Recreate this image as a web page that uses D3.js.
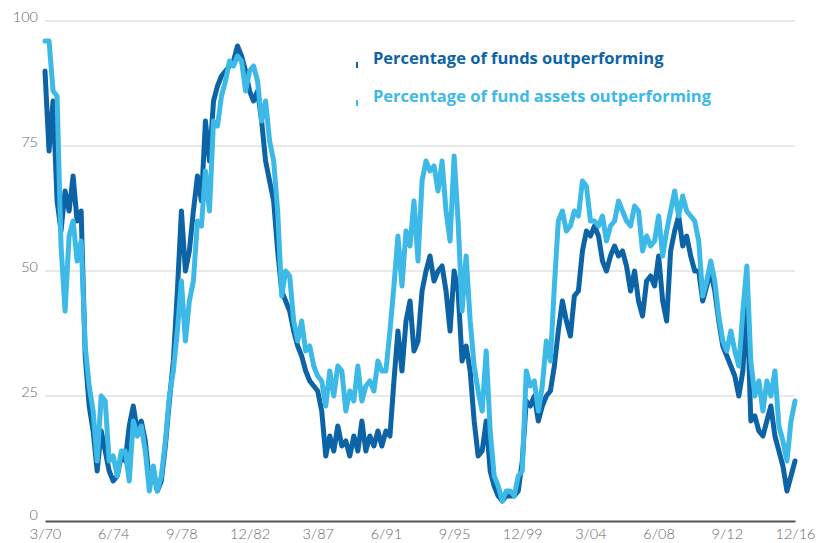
<!DOCTYPE html>
<html>
<head>
<meta charset="utf-8">
<script src="https://cdn.jsdelivr.net/npm/d3@7"></script>
<style>
  html, body { margin: 0; padding: 0; background: #fff; }
  svg { display: block; }
</style>
</head>
<body>
<svg id="chart" width="819" height="543"></svg>
<script>
// Quarterly observations, 3/70 through 12/16
const startMonth = "1970-03";
const fundsOutperforming = [
  90,74,84,64,58,66,62,69,60,62,33,23,18,10,18,14,10,8,9,13,
  12,19,23,18,20,16,8,10,6,8,15,24,32,46,62,50,54,62,69,64,
  80,72,84,87,89,90,91,92,95,93,90,86,84,86,80,72,68,64,54,46,
  44,42,38,35,33,30,28,27,26,22,13,17,14,19,15,16,13,17,14,20,
  14,17,15,18,15,18,17,28,38,30,40,44,34,36,46,50,53,48,50,51,
  46,38,50,46,32,35,30,20,13,14,20,10,7,5,4,5,5,5,6,12,
  24,23,25,20,23,25,26,31,38,44,40,37,45,46,54,58,57,59,57,52,
  50,53,55,53,54,51,46,50,44,41,48,49,47,53,44,40,54,58,61,55,
  57,53,50,50,44,47,50,46,40,35,33,31,29,25,30,45,20,21,18,17,
  20,23,17,14,11,6,9,12
];
const assetsOutperforming = [
  96,96,86,85,55,42,57,60,52,56,35,27,22,12,25,24,12,13,9,14,
  14,8,20,17,19,14,6,11,6,9,16,25,30,38,48,36,44,48,60,59,
  70,62,80,79,85,88,92,91,93,92,86,90,91,88,80,84,76,72,62,45,
  50,49,40,36,40,34,35,31,29,28,23,30,25,31,30,22,26,24,31,24,
  27,28,26,32,30,30,38,47,57,47,58,55,64,52,68,72,70,71,66,72,
  62,56,73,60,42,53,40,31,26,22,34,18,9,7,4,6,6,5,9,10,
  30,27,28,22,27,36,32,47,60,62,58,59,62,61,68,67,60,60,59,61,
  56,59,60,64,62,60,59,63,62,54,57,55,56,61,53,58,62,66,61,65,
  62,61,60,56,45,48,52,48,41,36,34,38,34,31,42,51,32,25,28,22,
  28,25,30,19,16,12,20,24
];
const yTicks = [0, 25, 50, 75, 100];
const xTickLabels = ["3/70","6/74","9/78","12/82","3/87","6/91","9/95","12/99","3/04","6/08","9/12","12/16"];
const seriesNames = ["Percentage of funds outperforming", "Percentage of fund assets outperforming"];
const seriesColors = ["#0c64a6", "#3cb9e7"];

const svg = d3.select("#chart");
const margin = { left: 45, right: 24, top: 21, bottom: 22 };
const W = 819, H = 543;

const parseStart = d3.timeParse("%Y-%m")(startMonth);
const dates = fundsOutperforming.map((_, i) => d3.timeMonth.offset(parseStart, i * 3));
const parseTick = d3.timeParse("%m/%y");
const tickDates = xTickLabels.map(s => {
  const d = parseTick(s);
  if (d.getFullYear() > 2050) d.setFullYear(d.getFullYear() - 100);
  return d;
});

const x = d3.scaleTime()
  .domain([dates[0], dates[dates.length - 1]])
  .range([margin.left, W - margin.right]);
const y = d3.scaleLinear().domain([0, 100]).range([H - margin.bottom, margin.top]);

// gridlines
svg.append("g").selectAll("line")
  .data(yTicks.filter(t => t > 0))
  .join("line")
  .attr("x1", margin.left).attr("x2", W - margin.right)
  .attr("y1", d => y(d)).attr("y2", d => y(d))
  .attr("stroke", "#d4d4d4").attr("stroke-width", 1);

// y labels
svg.append("g").selectAll("text")
  .data(yTicks)
  .join("text")
  .attr("x", 38).attr("y", d => y(d) - (d === 0 ? 5 : 3))
  .attr("text-anchor", "end")
  .attr("dominant-baseline", "middle")
  .attr("fill", "#666")
  .style("font-family", "Lato, sans-serif")
  .style("font-size", "14.5px")
  .style("font-weight", 300)
  .text(d => d);

// x axis
const xAxis = d3.axisBottom(x)
  .tickValues(tickDates)
  .tickFormat((d, i) => xTickLabels[i])
  .tickSize(0)
  .tickPadding(8);
const gx = svg.append("g")
  .attr("transform", `translate(0,${y(0)})`)
  .call(xAxis);
gx.select(".domain").attr("stroke", "#555").attr("stroke-width", 2);
gx.selectAll("text")
  .attr("fill", "#666")
  .style("font-family", "Lato, sans-serif")
  .style("font-size", "14.5px")
  .style("font-weight", 300);

// lines
const line = d3.line()
  .x((d, i) => x(dates[i]))
  .y(d => y(d));

[fundsOutperforming, assetsOutperforming].forEach((s, k) => {
  svg.append("path")
    .datum(s)
    .attr("d", line)
    .attr("fill", "none")
    .attr("stroke", seriesColors[k])
    .attr("stroke-width", 5)
    .attr("stroke-linejoin", "round")
    .attr("stroke-linecap", "round");
});

// legend
const legend = svg.append("g").attr("transform", "translate(356,60)");
seriesNames.forEach((name, k) => {
  const g = legend.append("g").attr("transform", `translate(0,${k * 38})`);
  g.append("rect")
    .attr("x", 0).attr("y", 2).attr("width", 2).attr("height", 6)
    .attr("fill", seriesColors[k]);
  g.append("text")
    .attr("x", 17).attr("y", 0)
    .attr("dominant-baseline", "middle")
    .attr("fill", seriesColors[k])
    .style("font-family", "'Open Sans', sans-serif")
    .style("font-size", "16.5px")
    .style("font-weight", 700)
    .text(name);
});
</script>
</body>
</html>
